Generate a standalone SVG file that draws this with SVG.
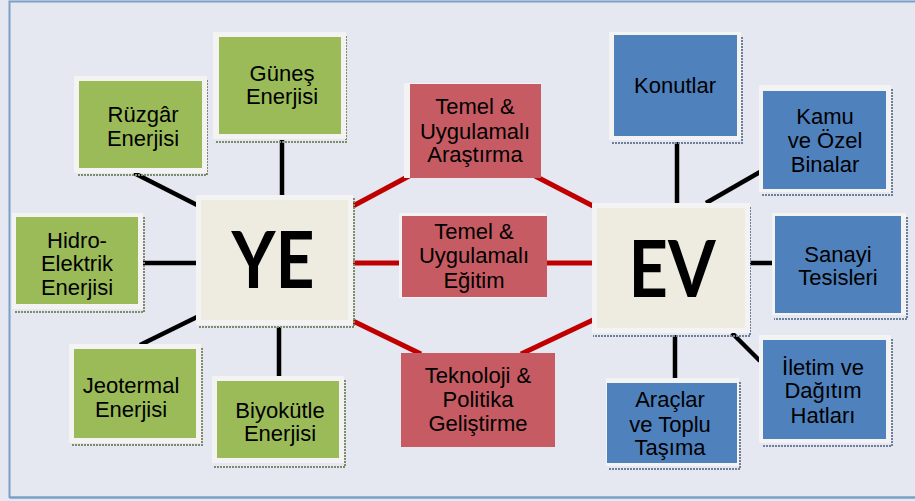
<svg xmlns="http://www.w3.org/2000/svg" width="915" height="501" viewBox="0 0 915 501">
<style>
.frame{fill:#E5E8F1;}
.outer{fill:#F3F3F3;}
.g{fill:#9BBB59;}
.r{fill:#C75B63;}
.b{fill:#4F81BD;}
.c{fill:#EEECE1;}
.shg{fill:none;stroke:#7E8C6C;stroke-width:2;stroke-dasharray:2 1;}
.shb{fill:none;stroke:#6F7F99;stroke-width:2;stroke-dasharray:2 1;}
.t{font-family:"Liberation Sans",Arial,sans-serif;font-size:22px;fill:#000;text-anchor:middle;}
.big{font-family:Lato,"Liberation Sans",sans-serif;font-weight:bold;font-size:78px;fill:#000;text-anchor:middle;}
.k{stroke:#000;stroke-width:4.5;fill:none;}
.red{stroke:#C00000;stroke-width:5;fill:none;}
</style>
<rect x="0" y="0" width="915" height="501" class="frame"/>
<path d="M9.5,498 V1.5 H915" fill="none" stroke="#7BA0C8" stroke-width="2"/>
<path d="M9.5,497.5 H915" fill="none" stroke="#7BA0C8" stroke-width="2.5"/>

<g id="connectors">
  <line class="k" x1="282" y1="140" x2="282" y2="195"/>
  <line class="k" x1="134" y1="173" x2="197" y2="205"/>
  <line class="k" x1="141" y1="263" x2="196" y2="263"/>
  <line class="k" x1="140" y1="345" x2="197" y2="317"/>
  <line class="k" x1="279" y1="327" x2="279" y2="377"/>
  <line class="k" x1="677" y1="142" x2="677" y2="204"/>
  <line class="k" x1="706" y1="203" x2="760" y2="172"/>
  <line class="k" x1="750" y1="263" x2="773" y2="263"/>
  <line class="k" x1="732" y1="333" x2="760" y2="361"/>
  <line class="k" x1="675" y1="335" x2="675" y2="379"/>
  <line class="red" x1="353" y1="206" x2="411" y2="175"/>
  <line class="red" x1="535" y1="176" x2="593" y2="206"/>
  <line class="red" x1="353" y1="263" x2="403" y2="263"/>
  <line class="red" x1="546" y1="263" x2="593" y2="263"/>
  <line class="red" x1="353" y1="321" x2="421" y2="354"/>
  <line class="red" x1="521" y1="354" x2="593" y2="320"/>
</g>

<g id="gunes">
  <path class="shg" d="M346,36 V142 H216"/>
  <rect class="outer" x="213" y="32" width="133" height="107"/>
  <rect class="g" x="219" y="37" width="122" height="97"/>
  <text class="t" x="282" y="81">Güneş</text>
  <text class="t" x="282" y="104">Enerjisi</text>
</g>
<g id="ruzgar">
  <path class="shg" d="M207,80 V175 H77"/>
  <rect class="outer" x="74" y="76" width="133" height="97"/>
  <rect class="g" x="79" y="81" width="123" height="87"/>
  <text class="t" x="143" y="122">Rüzgâr</text>
  <text class="t" x="143" y="146">Enerjisi</text>
</g>
<g id="hidro">
  <path class="shg" d="M144,217 V312 H14"/>
  <rect class="outer" x="12" y="213" width="131" height="96"/>
  <rect class="g" x="16" y="217" width="122" height="87"/>
  <text class="t" x="77" y="248">Hidro-</text>
  <text class="t" x="77" y="271">Elektrik</text>
  <text class="t" x="77" y="295">Enerjisi</text>
</g>
<g id="ye">
  <path class="shg" d="M354,198 V327 H198"/>
  <rect class="outer" x="196" y="195" width="157" height="130"/>
  <rect class="c" x="201" y="200" width="147" height="120"/>
  <text class="big" x="273" y="288" textLength="83" lengthAdjust="spacingAndGlyphs">YE</text>
</g>
<g id="jeotermal">
  <path class="shg" d="M202,348 V445 H72"/>
  <rect class="outer" x="69" y="344" width="132" height="99"/>
  <rect class="g" x="74" y="349" width="122" height="89"/>
  <text class="t" x="131" y="393">Jeotermal</text>
  <text class="t" x="131" y="417">Enerjisi</text>
</g>
<g id="biyokutle">
  <path class="shg" d="M345,380 V467 H214"/>
  <rect class="outer" x="212" y="376" width="132" height="87"/>
  <rect class="g" x="217" y="381" width="122" height="77"/>
  <text class="t" x="280" y="418">Biyokütle</text>
  <text class="t" x="280" y="441">Enerjisi</text>
</g>

<g id="arastirma">
  <rect class="outer" x="404" y="83" width="137" height="95"/>
  <rect class="r" x="410" y="84" width="131" height="94"/>
  <text class="t" x="475" y="114">Temel &amp;</text>
  <text class="t" x="475" y="139">Uygulamalı</text>
  <text class="t" x="475" y="162">Araştırma</text>
</g>
<g id="egitim">
  <rect class="outer" x="399" y="213" width="147" height="85"/>
  <rect class="r" x="402" y="216" width="145" height="81"/>
  <text class="t" x="474" y="239">Temel &amp;</text>
  <text class="t" x="474" y="263">Uygulamalı</text>
  <text class="t" x="474" y="288">Eğitim</text>
</g>
<g id="teknoloji">
  <rect class="r" x="401" y="353" width="154" height="94"/>
  <text class="t" x="478" y="383">Teknoloji &amp;</text>
  <text class="t" x="478" y="407">Politika</text>
  <text class="t" x="478" y="431">Geliştirme</text>
</g>

<g id="ev">
  <path class="shg" d="M750,207 V336 H593" style="stroke:#6F7F99"/>
  <rect class="outer" x="592" y="203" width="158" height="130"/>
  <rect class="c" x="597" y="208" width="148" height="120"/>
  <text class="big" x="672" y="297" textLength="87" lengthAdjust="spacingAndGlyphs">EV</text>
</g>
<g id="konutlar">
  <path class="shb" d="M742,37 V143 H612"/>
  <rect class="outer" x="609" y="32" width="132" height="108"/>
  <rect class="b" x="614" y="35" width="123" height="101"/>
  <text class="t" x="675" y="93">Konutlar</text>
</g>
<g id="kamu">
  <path class="shb" d="M892,89 V195 H762"/>
  <rect class="outer" x="759" y="85" width="132" height="107"/>
  <rect class="b" x="763" y="91" width="123" height="98"/>
  <text class="t" x="825" y="124">Kamu</text>
  <text class="t" x="825" y="148">ve Özel</text>
  <text class="t" x="825" y="172">Binalar</text>
</g>
<g id="sanayi">
  <path class="shb" d="M907,217 V319 H774"/>
  <rect class="outer" x="772" y="213" width="134" height="102"/>
  <rect class="b" x="775" y="216" width="126" height="97"/>
  <text class="t" x="838" y="262">Sanayi</text>
  <text class="t" x="838" y="285">Tesisleri</text>
</g>
<g id="iletim">
  <path class="shb" d="M892,339 V446 H762"/>
  <rect class="outer" x="759" y="335" width="132" height="108"/>
  <rect class="b" x="763" y="340" width="123" height="99"/>
  <text class="t" x="823" y="375">İletim ve</text>
  <text class="t" x="823" y="398">Dağıtım</text>
  <text class="t" x="823" y="423">Hatları</text>
</g>
<g id="araclar">
  <path class="shb" d="M740,382 V469 H608"/>
  <rect class="outer" x="606" y="378" width="133" height="88"/>
  <rect class="b" x="607" y="383" width="130" height="80"/>
  <text class="t" x="670" y="407">Araçlar</text>
  <text class="t" x="670" y="432">ve Toplu</text>
  <text class="t" x="670" y="455">Taşıma</text>
</g>
</svg>
